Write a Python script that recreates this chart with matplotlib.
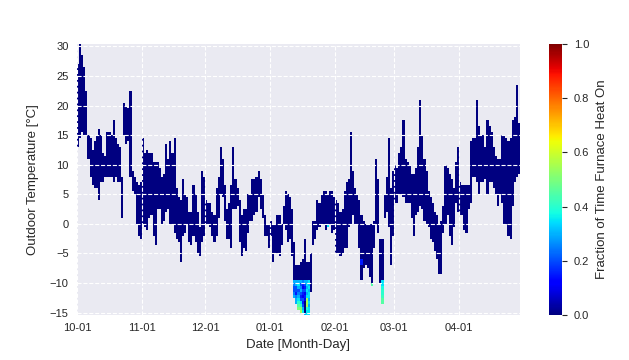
import datetime as dt
import numpy as np
import matplotlib
matplotlib.use("Agg")
import matplotlib.pyplot as plt
import matplotlib.dates as mdates
import seaborn as sns

# ---- data: daily outdoor temperature range (deg C), starting Oct 1 ----
start_date = "2018-10-01"
daily_low = [
    13, 14.5, 15.5, 15, 15, 11, 8, 6.5, 6, 6,
    4, 7, 7, 8, 8, 8, 8, 7, 8, 7,
    7, 1, 15, 13.5, 14, 8, 5.5, 5, 0, -2,
    -2.5, 0, -0.5, -1, 1, 1.5, -2, -3.4, 2.5, 2.5,
    0, 0.5, 2, 2.5, 0, 0, -1.5, -2.5, -3, -6.5,
    -2, -1.5, 0, -3, -3.5, -2, -3, -5, -5.4, -3,
    -2, 0, 0, -0.5, -2, -3, -2, 1, 5, 4.5,
    0.5, -2.5, -2.5, -4, 2.5, 2.5, 3, -3, -5.4, -4,
    -4.5, -1.5, 0.5, 0.5, 1.5, 2, 4.5, 2.5, 1, -2,
    -2, -4, -2, -6.5, -5, -5, -5.5, -3.5, 0, -1,
    -3, -2.5, -5.4, -12.5, -13.5, -14.5, -15, -15, -15.5, -15.5,
    -15.5, -11.5, -3.5, -2.5, -1, -0.5, 0, 0, -1, -0.5,
    0, -1.5, -1, -4.8, -5, -5.2, -5, -4, -4, -0.5,
    0, 1.5, 0, 0, -4, -9.3, -7.5, -7, -7.5, -9,
    -10.5, -4, 0, -1.5, -10, -13.5, 1, 2, -0.5, -7,
    -2, 3.5, 3.5, 5, 5, 4.5, 3.5, 3.5, 3.5, 1,
    -2, 1.5, 2, 3, 2.5, 0.5, 0, -0.5, -2.5, -3,
    -4.5, -6, -8.5, -8.5, -1.5, 0, 1.5, -2, -3.4, -0.5,
    3.5, 2, 1.5, 1.5, -1, -1.5, 2.5, 3.5, 8, 8,
    7, 5, 7, 7, 7.5, 5, 7, 7, 6, 5,
    3, 5, 3.5, 0, 0, -2, -2.2, 3, 7, 8,
    8.5,
]
daily_high = [
    27, 30.3, 28.5, 26.5, 22.5, 15, 14.5, 12.5, 14, 15,
    16, 15, 12, 11.5, 15.5, 15.5, 15, 17.5, 14.5, 13.5,
    13, 8, 20.5, 20, 19.5, 22.5, 9, 8, 7, 6.5,
    7, 14.4, 12, 12.5, 12, 12, 10.5, 10.5, 10.5, 9.5,
    8, 8.5, 13.5, 11, 13.8, 12, 14.4, 6, 4.5, 4,
    7.5, 5, 4.5, 2, 2, 6.5, 5, 2, -0.5, 9,
    8, 4, 3.5, 3.5, 2, 1.5, 6, 8, 13, 11,
    6.5, 2.5, 3.5, 6.5, 13, 7.5, 6, 4, 1.5, 2.5,
    2.5, 5, 5, 7.5, 7.5, 8, 9, 7.5, 5, 1.5,
    0, 0, 0.5, 0, 0, 1.5, 1.5, 0, 3, 5.5,
    5, 4.5, 2.5, -3, -7, -7, -6.5, -6, -2.6, -6.5,
    -6.5, -5, 0.5, 0.5, 4, 3.5, 5, 5.5, 5.5, 5,
    5.5, 5.5, 4.5, 4, 3.5, 2, 2.5, 5.5, 7, 7.5,
    15.5, 9, 6, 5, 4, 1.5, 0.3, 0, 0, 0,
    0, 0.5, 11, 7.5, -2.5, -2.5, 5, 8, 14.4, 6,
    9, 10, 9.5, 12, 13, 17.5, 11, 10.5, 10, 8.5,
    8.5, 9.5, 13, 20.6, 15, 11, 9, 5.5, 4.5, 3.5,
    2, 1.5, 0, 0.5, 3, 10, 9.5, 8.5, 7.5, 6,
    10.5, 12.7, 7, 6.5, 6.5, 6.5, 6.5, 13.8, 14.4, 14.5,
    20.6, 16.5, 15, 15, 12.7, 17.5, 16.5, 15.5, 12.7, 11.5,
    11, 11, 15, 15, 14.5, 14, 14.5, 17.5, 18, 23.4,
    17,
]

# ---- data: cells where the furnace was on (day index, bin lower edge, fraction) ----
heat_day = (
    [103] * 6 + [104] * 8 + [105] * 10 + [106] * 11 + [107] * 11
    + [108] * 12 + [109] * 12 + [110] * 12 + [140, 119, 135, 135] + [145] * 8
)
heat_temp = (
    [-12.5, -12, -11.5, -11, -10.5, -10]
    + [-13.5, -13, -12.5, -12, -11.5, -11, -10.5, -10]
    + [-14.5, -14, -13.5, -13, -12.5, -12, -11.5, -11, -10.5, -10]
    + [-15, -14.5, -14, -13.5, -13, -12.5, -12, -11.5, -11, -10.5, -10]
    + [-15, -14.5, -14, -13.5, -13, -12.5, -12, -11.5, -11, -10.5, -10]
    + [-15.5, -15, -14.5, -14, -13.5, -13, -12.5, -12, -11.5, -11, -10.5, -10]
    + [-15.5, -15, -14.5, -14, -13.5, -13, -12.5, -12, -11.5, -11, -10.5, -10]
    + [-15.5, -15, -14.5, -14, -13.5, -13, -12.5, -12, -11.5, -11, -10.5, -10]
    + [-10.5, -0.5, -7, -6.5]
    + [-13.5, -13, -12.5, -12, -11.5, -11, -10.5, -10]
)
heat_frac = (
    [0.3, 0.25, 0.2, 0.2, 0.25, 0.3]
    + [0.3, 0.3, 0.25, 0.15, 0.2, 0.2, 0.3, 0.3]
    + [0.5, 0.45, 0.4, 0.35, 0.3, 0.25, 0.2, 0.3, 0.35, 0.3]
    + [0.55, 0.5, 0.4, 0.35, 0.2, 0.15, 0.2, 0.3, 0.25, 0.2, 0.3]
    + [0.35, 0.3, 0.2, 0.15, 0.2, 0.1, 0.15, 0.2, 0.1, 0.15, 0.25]
    + [0.3, 0.0, 0.0, 0.0, 0.0, 0.1, 0.15, 0.1, 0.2, 0.15, 0.2, 0.3]
    + [0.35, 0.35, 0.4, 0.55, 0.55, 0.55, 0.35, 0.3, 0.35, 0.3, 0.35, 0.3]
    + [0.35, 0.35, 0.35, 0.3, 0.35, 0.3, 0.35, 0.35, 0.3, 0.35, 0.3, 0.35]
    + [0.45, 0.35, 0.15, 0.15]
    + [0.45, 0.45, 0.42, 0.4, 0.4, 0.38, 0.35, 0.35]
)

month_ticks = ["2018-10-01", "2018-11-01", "2018-12-01", "2019-01-01",
               "2019-02-01", "2019-03-01", "2019-04-01"]

# ---- build grid ----
start = dt.date.fromisoformat(start_date)
n_days = len(daily_low)
x_edges = mdates.date2num([start + dt.timedelta(days=i) for i in range(n_days + 1)])
bin_w = 0.5
y_edges = np.arange(-15.5, 30.5 + bin_w / 2, bin_w)
Z = np.full((len(y_edges) - 1, n_days), np.nan)
for i in range(n_days):
    m = (y_edges[1:] > daily_low[i] + 1e-9) & (y_edges[:-1] < daily_high[i] - 1e-9)
    Z[m, i] = 0.0
for d, t, f in zip(heat_day, heat_temp, heat_frac):
    r = int(round((t - y_edges[0]) / bin_w))
    Z[r, d] = f
Z = np.ma.masked_invalid(Z)

# ---- plot ----
sns.set_theme(style="darkgrid")
plt.rcParams["font.family"] = ["Liberation Sans", "DejaVu Sans"]

fig = plt.figure(figsize=(6.29, 3.6), dpi=100)
ax = fig.add_axes([77 / 629, 45 / 360, 443 / 629, 271 / 360])
cax = fig.add_axes([549 / 629, 45 / 360, 13 / 629, 271 / 360])

mesh = ax.pcolormesh(x_edges, y_edges, Z, cmap="jet", vmin=0, vmax=1, shading="flat")
ax.set_xlim(x_edges[0], x_edges[-1])
ax.set_ylim(-15.4, 30.4)
ax.set_yticks(np.arange(-15, 31, 5))
ax.set_xticks(mdates.date2num([dt.date.fromisoformat(s) for s in month_ticks]))
ax.xaxis.set_major_formatter(mdates.DateFormatter("%m-%d"))
ax.set_axisbelow(False)
ax.grid(True, color="white", linestyle="--", linewidth=0.8)
ax.tick_params(labelsize=8, colors="#262626", length=0, pad=6)
ax.set_xlabel("Date [Month-Day]", fontsize=9.5, color="#262626", labelpad=4)
ax.set_ylabel("Outdoor Temperature [°C]", fontsize=9.5, color="#262626", labelpad=8)
for s in ax.spines.values():
    s.set_visible(False)

cb = fig.colorbar(mesh, cax=cax)
cb.outline.set_visible(False)
cb.set_ticks([0, 0.2, 0.4, 0.6, 0.8, 1.0])
cb.ax.tick_params(labelsize=8, colors="#262626", length=3.5, width=0.8, right=True, pad=5)
cb.set_label("Fraction of Time Furnace Heat On", fontsize=9.5, color="#262626", labelpad=5)

fig.savefig("out.png", dpi=100)
